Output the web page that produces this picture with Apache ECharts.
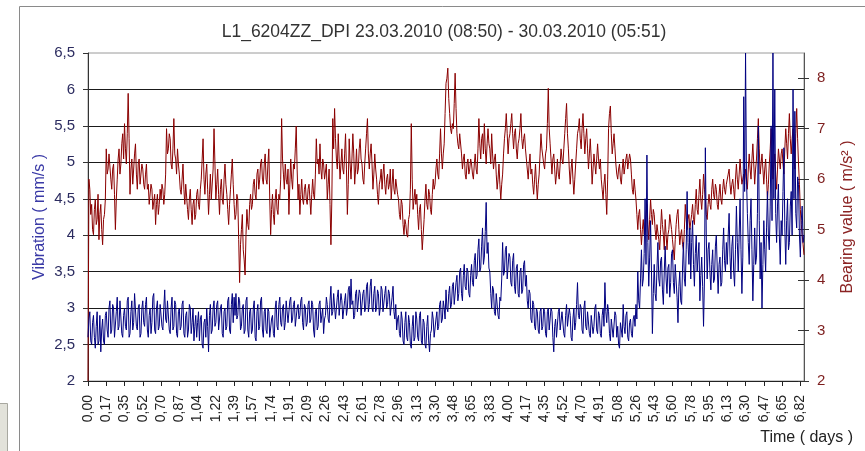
<!DOCTYPE html>
<html>
<head>
<meta charset="utf-8">
<script src="https://cdn.jsdelivr.net/npm/echarts@6.0.0/dist/echarts.min.js"></script>
<style>
  html, body { margin: 0; padding: 0; background: #fff; }
  #chart { width: 865px; height: 451px; }
</style>
</head>
<body>
<div id="chart"></div>
<script>
// Time axis labels (days since start), one every 20 samples
const tickLabels = ['0,00','0,17','0,35','0,52','0,70','0,87','1,04','1,22','1,39','1,57',
  '1,74','1,91','2,09','2,26','2,43','2,61','2,78','2,96','3,13','3,30',
  '3,48','3,65','3,83','4,00','4,17','4,35','4,52','4,70','4,91','5,08',
  '5,26','5,43','5,60','5,78','5,95','6,13','6,30','6,47','6,65','6,82'];

// Vibration velocity, mm/s (left axis) - 20 samples per tick interval
const vibration = [
  2.6, 2.85, 2.95, 2.55, 2.5, 2.8, 2.9, 2.6, 2.45, 2.75,  2.95, 2.5, 2.55, 2.9, 2.4, 2.7, 2.85, 2.55, 2.5, 2.9,
  2.95, 2.7, 2.6, 3.0, 3.1, 2.65, 2.7, 3.05, 3.0, 2.6,  2.6, 2.95, 3.15, 2.7, 2.75, 3.1, 3.1, 2.65, 2.6, 2.9,
  3.0, 2.75, 2.7, 3.1, 3.15, 2.6, 2.65, 2.95, 3.1, 2.7,  2.8, 3.2, 3.2, 2.75, 2.7, 3.0, 3.05, 2.6, 2.65, 3.0,
  3.1, 2.8, 2.75, 3.05, 3.15, 2.7, 2.6, 2.9, 3.0, 2.65,  2.8, 3.15, 3.2, 2.7, 2.65, 3.0, 3.1, 2.7, 2.75, 3.05,
  3.05, 2.75, 2.7, 3.0, 3.25, 2.85, 2.8, 3.1, 3.1, 2.7,  2.65, 3.0, 3.15, 2.7, 2.75, 3.1, 3.05, 2.65, 2.6, 2.95,
  3.0, 2.7, 2.75, 3.05, 3.1, 2.65, 2.6, 2.9, 2.95, 2.6,  2.7, 3.05, 3.0, 2.65, 2.8, 3.0, 2.55, 2.75, 2.9, 2.6,
  2.8, 2.95, 2.55, 2.85, 2.9, 2.5, 2.45, 2.8, 2.85, 2.6,  3.0, 2.75, 2.4, 2.9, 3.05, 2.65, 2.7, 3.0, 3.1, 2.75,
  2.8, 3.05, 3.1, 2.7, 2.7, 3.0, 3.05, 2.65, 2.6, 2.95,  3.0, 2.7, 2.75, 3.1, 3.15, 2.7, 2.65, 3.05, 3.2, 2.8,
  3.15, 2.9, 3.2, 2.85, 2.9, 3.15, 3.1, 2.7, 2.75, 3.0,  3.05, 2.65, 2.7, 3.1, 3.15, 2.7, 2.6, 2.95, 3.0, 2.65,
  2.7, 3.0, 3.1, 2.6, 2.55, 2.95, 3.05, 2.7, 2.75, 3.1,  3.15, 2.7, 2.6, 2.95, 3.0, 2.7, 2.65, 3.0, 2.95, 2.6,
  2.6, 2.85, 2.9, 2.65, 2.6, 3.0, 3.1, 2.75, 2.7, 3.05,  3.15, 2.8, 2.75, 3.0, 3.05, 2.7, 2.8, 3.1, 3.1, 2.8,
  2.8, 3.1, 3.15, 2.8, 2.85, 3.05, 3.1, 2.75, 2.75, 3.0,  3.05, 2.85, 2.9, 3.1, 3.15, 2.8, 2.7, 3.05, 3.0, 2.75,
  2.8, 3.05, 3.1, 2.8, 2.85, 3.1, 3.05, 2.7, 2.6, 2.95,  3.0, 2.7, 2.75, 3.05, 3.1, 2.8, 2.8, 3.0, 2.65, 2.85,
  2.9, 3.15, 3.05, 2.85, 2.8, 3.1, 3.3, 2.9, 2.95, 3.2,  3.2, 2.85, 2.85, 3.15, 3.25, 2.9, 2.9, 3.2, 3.1, 2.85,
  2.85, 3.1, 3.2, 2.9, 3.0, 3.25, 3.3, 3.0, 3.4, 3.05,  3.1, 2.85, 2.9, 3.2, 3.25, 2.95, 2.95, 3.25, 3.2, 2.9,
  2.9, 3.2, 3.25, 2.95, 3.0, 3.3, 3.35, 2.95, 3.05, 3.3,  3.4, 3.0, 2.95, 3.2, 3.3, 2.95, 3.0, 3.25, 3.2, 2.9,
  3.0, 3.3, 3.25, 2.95, 2.95, 3.2, 3.3, 3.0, 3.05, 3.25,  3.2, 2.9, 2.9, 3.15, 3.3, 2.95, 2.85, 3.05, 2.7, 2.85,
  2.9, 2.65, 2.6, 2.95, 2.85, 2.55, 2.5, 2.8, 2.95, 2.6,  2.55, 2.9, 2.8, 2.5, 2.45, 2.75, 2.9, 2.55, 2.6, 2.95,
  2.85, 2.6, 2.55, 2.9, 2.95, 2.55, 2.5, 2.85, 2.8, 2.5,  2.45, 2.75, 2.9, 2.55, 2.4, 2.65, 2.7, 2.95, 2.85, 2.6,
  2.6, 2.85, 2.95, 2.7, 2.75, 3.05, 3.1, 2.8, 2.85, 3.1,  3.0, 2.85, 3.25, 3.0, 2.95, 3.2, 3.3, 3.0, 3.05, 3.3,
  3.35, 3.05, 3.05, 3.35, 3.45, 3.1, 3.2, 3.5, 3.55, 3.2,  3.1, 3.45, 3.6, 3.3, 3.25, 3.55, 3.5, 3.2, 3.15, 3.45,
  3.6, 3.35, 3.3, 3.65, 3.75, 3.4, 3.45, 3.8, 3.95, 3.5,  3.55, 3.85, 4.1, 3.6, 3.7, 4.05, 4.45, 3.75, 3.9, 3.55,
  3.5, 3.2, 3.0, 3.3, 3.25, 2.95, 2.9, 3.2, 3.2, 2.9,  2.85, 3.15, 3.1, 3.4, 3.9, 3.45, 3.5, 3.8, 3.85, 3.4,
  3.4, 3.75, 3.7, 3.35, 3.3, 3.65, 3.75, 3.3, 3.2, 3.55,  3.6, 3.2, 3.15, 3.5, 3.55, 3.2, 3.25, 3.6, 3.65, 3.3,
  3.45, 3.1, 3.0, 3.25, 3.2, 2.85, 2.8, 3.1, 3.05, 2.75,  2.7, 3.0, 2.95, 2.7, 2.65, 2.95, 3.0, 2.7, 2.75, 3.0,
  2.95, 2.65, 2.6, 2.95, 3.0, 2.7, 2.7, 3.0, 2.95, 2.6,  2.4, 2.75, 2.85, 2.6, 2.6, 2.95, 3.0, 2.7, 2.7, 2.95,
  2.95, 2.65, 2.6, 2.9, 3.05, 2.75, 2.75, 3.0, 2.9, 2.6,  2.55, 2.85, 3.0, 2.7, 2.8, 3.05, 3.35, 2.9, 2.85, 3.05,
  3.0, 2.7, 2.65, 3.0, 3.1, 2.75, 2.7, 2.95, 2.95, 2.65,  2.6, 2.9, 2.9, 2.65, 2.75, 3.0, 3.05, 2.7, 2.65, 2.95,
  2.9, 2.65, 2.6, 2.9, 3.0, 2.75, 3.35, 2.95, 2.8, 3.05,  2.95, 2.65, 2.55, 2.85, 2.85, 2.6, 2.6, 2.95, 2.9, 2.6,
  2.75, 2.5, 2.45, 2.8, 2.8, 2.6, 3.05, 2.75, 2.65, 2.9,  2.95, 2.6, 2.55, 2.8, 2.85, 2.65, 2.6, 2.85, 2.9, 2.75,
  3.05, 2.85, 3.5, 3.1, 3.0, 3.4, 3.8, 3.3, 3.4, 3.75,  4.5, 3.6, 5.1, 3.9, 3.3, 3.7, 4.2, 3.5, 2.65, 3.2,
  3.6, 3.2, 3.1, 3.55, 3.9, 3.4, 3.3, 3.65, 3.7, 3.25,  3.05, 3.5, 3.85, 3.4, 3.2, 3.55, 3.6, 3.15, 3.35, 3.75,
  3.8, 3.35, 3.2, 3.6, 3.6, 3.15, 2.8, 3.3, 3.5, 3.1,  3.05, 3.55, 3.9, 3.4, 3.3, 3.8, 4.6, 3.9, 3.6, 4.1,
  3.4, 3.9, 4.2, 3.6, 3.3, 3.75, 4.0, 3.5, 3.5, 3.9,  3.1, 3.45, 3.7, 3.3, 2.75, 3.4, 5.2, 4.0, 3.4, 3.8,
  3.9, 3.5, 3.25, 3.6, 3.8, 3.35, 3.4, 3.85, 4.0, 3.55,  3.2, 3.6, 3.7, 3.3, 3.35, 3.8, 4.1, 3.65, 3.5, 3.9,
  3.6, 4.0, 4.3, 3.7, 3.4, 3.85, 4.0, 3.5, 3.3, 3.8,  4.4, 3.9, 3.5, 4.0, 4.5, 3.8, 3.2, 3.7, 5.9, 4.6,
  6.5, 4.8, 4.3, 3.9, 3.6, 4.2, 4.5, 3.8, 3.1, 3.6,  4.1, 3.6, 3.7, 4.3, 5.5, 4.2, 3.4, 3.9, 3.0, 3.6,
  4.2, 3.8, 3.5, 4.1, 4.6, 4.0, 3.8, 4.4, 5.5, 4.2,  6.5, 4.5, 6.0, 4.3, 3.9, 4.4, 4.7, 4.0, 3.6, 4.2,
  4.0, 4.6, 5.2, 4.1, 3.6, 4.2, 4.5, 3.8, 3.9, 4.4,  4.6, 4.0, 6.0, 4.5, 5.7, 4.3, 4.1, 4.8, 4.7, 4.0,
  3.7, 4.2, 4.4, 3.9, 4.0
];

// Bearing value, m/s² (right axis) - 20 samples per tick interval
const bearing = [
  2.0, 6.0, 5.8, 5.3, 5.5, 5.0, 4.9, 5.4, 5.6, 5.1,  5.2, 5.7, 4.8, 5.3, 5.5, 5.0, 4.7, 5.2, 5.3, 5.6,
  6.6, 6.1, 6.2, 6.5, 6.5, 6.0, 5.8, 6.2, 6.3, 5.7,  5.0, 5.6, 6.0, 6.4, 6.6, 6.1, 6.3, 6.7, 6.9, 6.4,
  7.1, 6.6, 6.3, 6.9, 7.7, 6.8, 5.7, 6.2, 6.4, 5.9,  5.9, 6.5, 6.7, 6.1, 5.8, 6.3, 6.4, 5.9, 5.9, 6.3,
  6.2, 5.9, 5.8, 6.1, 6.3, 5.8, 5.9, 5.5, 5.5, 5.9,  5.8, 5.4, 5.4, 5.7, 5.1, 5.5, 5.7, 5.3, 5.5, 5.8,
  5.6, 5.9, 5.8, 5.5, 5.7, 6.1, 7.0, 6.5, 6.6, 6.9,  6.8, 6.3, 6.2, 6.6, 7.2, 6.5, 6.4, 6.1, 6.6, 6.3,
  6.1, 5.8, 5.7, 6.0, 6.3, 5.8, 5.5, 5.9, 5.9, 5.4,  5.2, 5.6, 5.8, 5.4, 5.1, 5.5, 5.6, 5.2, 5.3, 5.7,
  5.8, 5.5, 5.4, 5.8, 6.0, 6.4, 6.8, 6.0, 5.7, 6.1,  6.3, 5.8, 5.3, 5.7, 6.1, 5.6, 5.6, 6.2, 7.0, 6.3,
  5.6, 5.9, 6.2, 5.7, 5.3, 5.8, 6.0, 5.6, 5.5, 6.0,  6.3, 5.9, 5.7, 5.4, 5.1, 5.5, 5.8, 6.1, 6.4, 5.9,
  5.5, 5.2, 5.3, 5.7, 5.6, 4.8, 3.95, 4.7, 5.0, 5.3,  4.6, 4.4, 4.1, 4.9, 5.4, 5.1, 5.0, 5.5, 5.7, 5.4,
  5.5, 5.9, 6.0, 5.7, 5.6, 6.1, 6.2, 5.8, 6.0, 6.3,  6.4, 6.0, 5.9, 6.3, 6.5, 6.0, 5.9, 6.3, 6.6, 5.6,
  4.9, 5.4, 5.7, 5.3, 5.1, 5.6, 5.8, 5.4, 5.3, 5.7,  5.6, 6.0, 7.2, 6.4, 6.1, 5.8, 6.3, 6.0, 5.9, 6.2,
  5.3, 5.9, 6.4, 6.0, 5.8, 6.3, 6.2, 6.6, 7.05, 6.2,  5.6, 5.9, 5.3, 5.7, 6.0, 5.6, 5.5, 5.8, 5.9, 5.6,
  5.5, 5.8, 5.9, 5.6, 5.3, 5.7, 6.0, 5.7, 5.6, 6.1,  6.8, 6.3, 6.4, 6.1, 6.7, 6.2, 6.0, 6.4, 6.3, 6.0,
  6.0, 6.3, 5.6, 5.9, 6.2, 5.5, 4.7, 5.6, 7.2, 6.6,  7.4, 6.8, 6.4, 6.2, 6.9, 6.4, 6.0, 6.3, 6.6, 6.2,
  6.1, 6.5, 6.9, 6.2, 5.3, 5.9, 6.8, 6.3, 6.0, 6.4,  6.9, 6.5, 5.9, 6.2, 6.6, 6.1, 6.2, 6.6, 6.8, 6.4,
  6.3, 6.0, 5.9, 6.3, 6.6, 6.9, 7.2, 6.5, 6.2, 6.5,  6.7, 6.3, 5.8, 6.1, 6.5, 6.2, 6.0, 5.7, 5.5, 5.9,
  6.0, 6.2, 5.8, 6.1, 6.3, 5.9, 5.7, 6.0, 6.1, 5.8,  5.9, 6.2, 5.6, 5.9, 6.2, 5.8, 5.7, 6.0, 6.0, 5.7,
  5.6, 5.3, 5.2, 5.6, 5.5, 5.1, 4.9, 5.2, 5.1, 4.9,  4.85, 5.2, 5.3, 5.8, 7.1, 6.0, 5.4, 5.6, 5.8, 5.5,
  5.7, 5.3, 5.0, 5.4, 5.5, 5.0, 4.6, 4.9, 5.2, 5.6,  5.9, 5.5, 5.4, 5.8, 5.7, 5.4, 5.3, 5.7, 6.0, 5.8,
  5.9, 6.2, 6.4, 6.1, 6.0, 6.5, 7.0, 6.5, 6.2, 6.5,  6.7, 7.3, 7.9, 8.0, 8.2, 7.6, 7.3, 7.0, 6.9, 7.1,
  7.0, 7.5, 8.1, 7.4, 6.9, 6.7, 6.6, 6.9, 6.9, 6.5,  6.2, 6.4, 6.5, 6.1, 6.0, 6.3, 6.4, 6.1, 6.2, 6.4,
  6.3, 6.1, 6.0, 6.3, 6.5, 6.2, 6.1, 6.6, 7.2, 6.7,  6.4, 6.8, 6.9, 6.5, 7.1, 6.6, 6.3, 6.7, 7.0, 6.7,
  6.6, 6.3, 6.9, 6.5, 6.2, 6.4, 6.5, 6.1, 5.8, 6.0,  6.3, 5.9, 5.6, 5.9, 6.1, 6.5, 6.8, 7.0, 7.3, 6.9,
  6.5, 6.8, 6.9, 7.1, 7.3, 6.9, 6.6, 6.9, 7.0, 6.6,  6.4, 6.7, 6.8, 7.0, 7.3, 6.8, 6.6, 6.8, 6.9, 6.6,
  6.4, 6.2, 6.0, 6.3, 6.5, 6.1, 6.2, 5.9, 5.7, 6.0,  6.3, 5.9, 5.6, 5.9, 6.1, 6.5, 6.9, 6.6, 6.6, 6.3,
  6.2, 6.5, 6.6, 7.1, 7.8, 7.0, 6.7, 6.4, 6.1, 6.4,  6.5, 6.2, 5.9, 6.1, 6.4, 6.1, 6.0, 6.3, 6.6, 6.4,
  6.3, 6.6, 6.9, 7.2, 7.5, 6.9, 6.6, 6.2, 5.9, 6.2,  6.4, 6.0, 5.7, 6.0, 6.3, 6.6, 6.9, 7.0, 7.2, 6.8,
  6.6, 7.0, 7.3, 6.9, 6.5, 6.8, 7.0, 6.6, 6.2, 6.5,  6.8, 6.4, 5.9, 6.2, 6.5, 6.3, 6.1, 6.4, 6.7, 6.4,
  6.2, 6.4, 6.0, 5.8, 5.6, 5.9, 6.1, 5.7, 5.3, 6.0,  7.0, 7.3, 7.45, 6.9, 6.5, 6.7, 6.9, 6.6, 6.3, 6.1,
  6.0, 6.2, 6.3, 6.0, 5.9, 6.2, 6.4, 6.1, 6.1, 6.4,  6.5, 6.2, 6.2, 6.5, 6.4, 6.1, 5.8, 5.7, 6.0, 5.8,
  5.6, 5.3, 5.0, 5.3, 5.4, 5.0, 4.7, 5.0, 5.2, 4.9,  4.9, 5.3, 5.5, 5.1, 4.8, 5.2, 5.6, 5.3, 5.1, 5.4,
  5.3, 5.0, 4.8, 5.1, 5.1, 4.8, 4.6, 5.0, 5.4, 5.1,  4.9, 4.6, 5.2, 4.9, 4.6, 4.9, 5.0, 5.3, 5.3, 5.0,
  4.8, 4.6, 4.4, 4.8, 5.1, 5.3, 5.4, 5.0, 4.7, 4.9,  5.0, 4.7, 4.6, 5.0, 5.5, 5.2, 5.0, 5.2, 5.3, 5.0,
  5.0, 5.3, 5.5, 5.2, 5.1, 5.5, 5.8, 5.4, 5.3, 5.7,  6.0, 5.6, 5.4, 5.7, 6.1, 5.8, 5.6, 5.3, 5.2, 5.5,
  5.7, 5.5, 5.4, 5.8, 6.0, 5.7, 5.6, 5.9, 5.8, 5.5,  5.4, 5.7, 5.9, 5.6, 5.5, 5.8, 6.0, 5.8, 5.7, 5.9,
  5.9, 6.1, 6.2, 5.9, 5.7, 5.9, 6.0, 5.8, 5.6, 6.0,  6.3, 6.0, 5.8, 6.1, 6.4, 6.1, 5.9, 6.0, 6.1, 5.9,
  6.2, 6.0, 5.8, 6.2, 6.5, 6.2, 6.0, 6.4, 6.7, 6.3,  5.9, 6.2, 6.4, 6.8, 7.2, 6.6, 6.1, 6.3, 6.5, 6.2,
  5.9, 6.2, 6.4, 6.0, 5.6, 5.9, 6.3, 6.6, 7.0, 6.5,  6.0, 6.3, 6.5, 6.1, 5.8, 6.2, 6.6, 6.4, 6.2, 6.5,
  6.6, 6.3, 6.1, 6.6, 7.0, 6.7, 6.4, 6.9, 7.3, 6.8,  6.5, 6.8, 7.0, 6.6, 6.2, 6.9, 7.4, 6.8, 6.3, 5.9,
  5.4, 5.1, 4.9, 4.7, 4.5
];

const rightTicks = [2, 3, 4, 5, 6, 7, 8];
const SAMPLES_PER_TICK = 20;
const isTick = (i) => i % SAMPLES_PER_TICK === 0;
// one category per sample; the labelled ones carry the day value
const categories = vibration.map((_, i) => isTick(i) ? tickLabels[i / SAMPLES_PER_TICK] : 's' + i);
const decimalComma = (v) => String(v).replace('.', ',');

const FONT = '"Liberation Sans", Arial, sans-serif';
const chart = echarts.init(document.getElementById('chart'), null, { renderer: 'canvas' });

chart.setOption({
  animation: false,
  backgroundColor: '#ffffff',
  textStyle: { fontFamily: FONT },
  grid: {
    left: 88, top: 53, right: 61, height: 328,
    show: true, borderColor: '#9a9a9a', borderWidth: 1,
    containLabel: false, outerBoundsMode: 'none'
  },
  graphic: [
    { type: 'rect', silent: true, z: 0,
      shape: { x: 19.5, y: 6.5, width: 900, height: 500 },
      style: { fill: 'none', stroke: '#8a8a8a', lineWidth: 1 } },
    { type: 'rect', silent: true, z: 0,
      shape: { x: -1, y: 403.5, width: 8.5, height: 50 },
      style: { fill: '#e2e2da', stroke: '#a8a8a0', lineWidth: 1 } },
    { type: 'text', silent: true, x: 444, y: 32,
      style: { text: 'L1_6204ZZ_DPI 23.03.2010 (08:50) - 30.03.2010 (05:51)',
        align: 'center', verticalAlign: 'middle',
        fontSize: 17.5, fontFamily: FONT, fill: '#333333' } },
    { type: 'text', silent: true, x: 853, y: 438,
      style: { text: 'Time ( days )', align: 'right', verticalAlign: 'middle',
        fontSize: 16, fontFamily: FONT, fill: '#222222' } }
  ],
  xAxis: {
    type: 'category',
    data: categories,
    boundaryGap: false,
    axisLine: { lineStyle: { color: '#222222', width: 1 } },
    axisTick: { show: true, interval: (i) => isTick(i), length: 5, lineStyle: { color: '#222222' } },
    axisLabel: {
      interval: (i) => isTick(i), rotate: 90, margin: 14,
      color: '#222222', fontSize: 14, fontFamily: FONT
    },
    splitLine: { show: false }
  },
  yAxis: [
    {
      type: 'value', position: 'left', min: 2, max: 6.5, interval: 0.5,
      name: 'Vibration ( mm/s )', nameLocation: 'middle', nameRotate: 90, nameGap: 40,
      nameMoveOverlap: false,
      nameTextStyle: { color: '#3a3aa6', fontSize: 16, fontFamily: FONT },
      axisLine: { show: true, lineStyle: { color: '#333333' } },
      axisTick: { show: true, length: 5, lineStyle: { color: '#333333' } },
      axisLabel: { color: '#2c2c60', fontSize: 15, margin: 13, fontFamily: FONT, formatter: decimalComma },
      splitLine: { show: true, showMaxLine: false, lineStyle: { color: '#1a1a1a', width: 1 } }
    },
    {
      type: 'value', position: 'right', min: 2, max: 8.5, interval: 1,
      name: 'Bearing value ( m/s² )', nameLocation: 'middle', nameRotate: 90, nameGap: 36,
      nameTextStyle: { color: '#8b2323', fontSize: 16, fontFamily: FONT },
      axisLine: { show: true, lineStyle: { color: '#555555' } },
      axisTick: { show: true, length: 5, customValues: rightTicks, lineStyle: { color: '#333333' } },
      axisLabel: { color: '#7d1e1e', fontSize: 15, margin: 13, fontFamily: FONT, customValues: rightTicks },
      splitLine: { show: false }
    },
    {
      // inner half of the crossing ticks on the right axis
      type: 'value', position: 'right', min: 2, max: 8.5, interval: 1,
      axisLine: { show: false },
      axisTick: { show: true, inside: true, length: 6, customValues: rightTicks, lineStyle: { color: '#333333' } },
      axisLabel: { show: false },
      splitLine: { show: false }
    }
  ],
  series: [
    {
      name: 'Bearing value', type: 'line', yAxisIndex: 1, data: bearing,
      symbol: 'none', showSymbol: false, z: 2,
      lineStyle: { color: '#8b0000', width: 1 },
      itemStyle: { color: '#8b0000' },
      emphasis: { disabled: true }
    },
    {
      name: 'Vibration', type: 'line', yAxisIndex: 0, data: vibration,
      symbol: 'none', showSymbol: false, z: 3,
      lineStyle: { color: '#000080', width: 1 },
      itemStyle: { color: '#000080' },
      emphasis: { disabled: true }
    }
  ]
});
</script>
</body>
</html>
